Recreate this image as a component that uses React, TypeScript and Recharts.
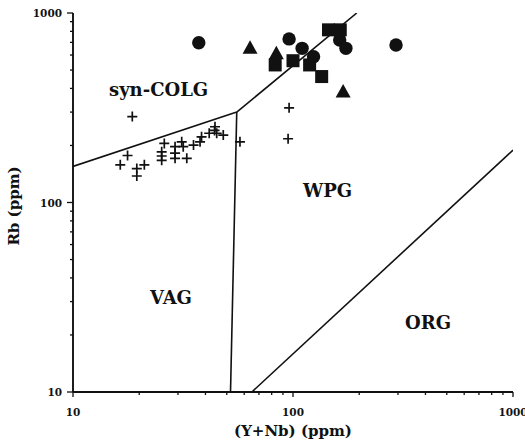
import React from "react";
import {
  ScatterChart,
  Scatter,
  XAxis,
  YAxis,
  ReferenceLine,
  ReferenceDot,
} from "recharts";

const FONT = "'DejaVu Serif', serif";
const INK = "#111";

const majorTicks = [10, 100, 1000];
const minorTicks = [20, 30, 40, 50, 60, 70, 80, 90, 200, 300, 400, 500, 600, 700, 800, 900];
const allTicks = [...majorTicks, ...minorTicks];

// Y+Nb vs Rb, ppm
const crosses = [
  { x: 18.6, y: 284 },
  { x: 17.7, y: 177 },
  { x: 16.4, y: 158 },
  { x: 19.5, y: 151 },
  { x: 19.5, y: 138 },
  { x: 21.1, y: 158 },
  { x: 26.0, y: 205 },
  { x: 25.3, y: 185 },
  { x: 25.3, y: 176 },
  { x: 25.3, y: 167 },
  { x: 29.1, y: 197 },
  { x: 29.1, y: 182 },
  { x: 29.1, y: 171 },
  { x: 31.2, y: 209 },
  { x: 31.7, y: 197 },
  { x: 32.9, y: 171 },
  { x: 35.3, y: 201 },
  { x: 37.8, y: 209 },
  { x: 38.4, y: 222 },
  { x: 41.6, y: 232 },
  { x: 44.2, y: 251 },
  { x: 44.0, y: 240 },
  { x: 45.0, y: 232 },
  { x: 48.2, y: 227 },
  { x: 57.4, y: 209 },
  { x: 96, y: 316 },
  { x: 95, y: 217 },
];

const circles = [
  { x: 37.3, y: 697 },
  { x: 96, y: 730 },
  { x: 110, y: 651 },
  { x: 124, y: 588 },
  { x: 163, y: 720 },
  { x: 174, y: 651 },
  { x: 294, y: 678 },
];

const triangles = [
  { x: 63.8, y: 655 },
  { x: 84, y: 613 },
  { x: 169, y: 385 },
];

const squares = [
  { x: 83, y: 532 },
  { x: 100, y: 560 },
  { x: 119, y: 532 },
  { x: 135, y: 462 },
  { x: 145, y: 815 },
  { x: 164, y: 815 },
];

// field boundaries
const synColgVag = [{ x: 10, y: 155 }, { x: 55.5, y: 300 }];
const vagWpg = [{ x: 55.5, y: 300 }, { x: 52, y: 10 }];
const synColgWpg = [{ x: 55.5, y: 300 }, { x: 195, y: 1000 }];
const wpgOrg = [{ x: 65, y: 10 }, { x: 1000, y: 189 }];
const boundaries = [synColgVag, vagWpg, synColgWpg, wpgOrg];

const fieldLabels = [
  { name: "syn-COLG", x: 24.5, y: 395 },
  { name: "WPG", x: 143.6, y: 115 },
  { name: "VAG", x: 27.9, y: 31.3 },
  { name: "ORG", x: 411, y: 23.3 },
];

const isMajor = (v: number) => majorTicks.includes(v);

const BottomTick = ({ x, y, payload }: any) => (
  <g>
    <line x1={x} x2={x} y1={y} y2={y + (isMajor(payload.value) ? 5 : 3)} stroke={INK} strokeWidth={1.3} />
    {isMajor(payload.value) && (
      <text x={x} y={y + 24} textAnchor="middle" fontFamily={FONT} fontWeight={700} fontSize={10.5} fill={INK}>
        {payload.value}
      </text>
    )}
  </g>
);

const LeftTick = ({ x, y, payload }: any) => (
  <g>
    <line x1={x - (isMajor(payload.value) ? 6 : 3)} x2={x} y1={y} y2={y} stroke={INK} strokeWidth={1.3} />
    {isMajor(payload.value) && (
      <text x={x - 11} y={y + 4} textAnchor="end" fontFamily={FONT} fontWeight={700} fontSize={10.5} fill={INK}>
        {payload.value}
      </text>
    )}
  </g>
);

const TopTick = ({ x, y }: any) => (
  <line x1={x} x2={x} y1={y} y2={y + 3} stroke={INK} strokeWidth={1.2} />
);

const RightTick = ({ x, y }: any) => (
  <line x1={x - 3} x2={x} y1={y} y2={y} stroke={INK} strokeWidth={1.2} />
);

const XTitle = ({ viewBox }: any) => (
  <text
    x={viewBox.x + viewBox.width / 2}
    y={431}
    textAnchor="middle"
    dominantBaseline="central"
    fontFamily={FONT}
    fontWeight={700}
    fontSize={15}
    fill={INK}
  >
    (Y+Nb) (ppm)
  </text>
);

const YTitle = () => (
  <text
    transform="translate(14,206) rotate(-90)"
    textAnchor="middle"
    dominantBaseline="central"
    fontFamily={FONT}
    fontWeight={700}
    fontSize={15}
    fill={INK}
  >
    Rb (ppm)
  </text>
);

const CrossShape = ({ cx, cy }: any) => (
  <path d={`M${cx - 5},${cy}H${cx + 5}M${cx},${cy - 5}V${cy + 5}`} stroke={INK} strokeWidth={1.7} fill="none" />
);
const CircleShape = ({ cx, cy }: any) => <circle cx={cx} cy={cy} r={6.7} fill={INK} />;
const TriangleShape = ({ cx, cy }: any) => (
  <polygon points={`${cx},${cy - 7.5} ${cx - 7.5},${cy + 6} ${cx + 7.5},${cy + 6}`} fill={INK} />
);
const SquareShape = ({ cx, cy }: any) => <rect x={cx - 6.5} y={cy - 6.5} width={13} height={13} fill={INK} />;

const axisLine = { stroke: INK, strokeWidth: 1.6 };

export default function App() {
  return (
    <div style={{ position: "absolute", left: 0, top: 0, background: "#fff" }}>
      <ScatterChart width={525} height={445} margin={{ top: 13, right: 12, bottom: 0, left: 0 }}>
        <XAxis
          dataKey="x"
          type="number"
          scale="log"
          domain={[10, 1000]}
          allowDataOverflow
          ticks={allTicks}
          interval={0}
          tickSize={0}
          tickMargin={0}
          tickLine={false}
          tick={BottomTick}
          axisLine={{ ...axisLine, strokeWidth: 1.9 }}
          height={53}
          label={{ content: XTitle }}
        />
        <XAxis
          xAxisId="top"
          orientation="top"
          type="number"
          scale="log"
          domain={[10, 1000]}
          allowDataOverflow
          ticks={allTicks}
          interval={0}
          tickSize={0}
          tickMargin={0}
          tickLine={false}
          tick={TopTick}
          axisLine={axisLine}
          height={0}
        />
        <YAxis
          dataKey="y"
          type="number"
          scale="log"
          domain={[10, 1000]}
          allowDataOverflow
          ticks={allTicks}
          interval={0}
          tickSize={0}
          tickMargin={0}
          tickLine={false}
          tick={LeftTick}
          axisLine={{ ...axisLine, strokeWidth: 1.9 }}
          width={73}
          label={{ content: YTitle }}
        />
        <YAxis
          yAxisId="right"
          orientation="right"
          type="number"
          scale="log"
          domain={[10, 1000]}
          allowDataOverflow
          ticks={allTicks}
          interval={0}
          tickSize={0}
          tickMargin={0}
          tickLine={false}
          tick={RightTick}
          axisLine={axisLine}
          width={0}
        />

        {boundaries.map((seg, i) => (
          <ReferenceLine
            key={i}
            segment={seg}
            stroke={INK}
            strokeWidth={1.6}
            ifOverflow="hidden"
          />
        ))}

        {fieldLabels.map((f) => (
          <ReferenceDot
            key={f.name}
            x={f.x}
            y={f.y}
            r={0}
            stroke="none"
            fill="none"
            label={{
              value: f.name,
              position: "center",
              fill: INK,
              fontSize: 18,
              fontWeight: 700,
              fontFamily: FONT,
            }}
          />
        ))}

        <Scatter data={crosses} shape={CrossShape} isAnimationActive={false} />
        <Scatter data={circles} shape={CircleShape} isAnimationActive={false} />
        <Scatter data={triangles} shape={TriangleShape} isAnimationActive={false} />
        <Scatter data={squares} shape={SquareShape} isAnimationActive={false} />
      </ScatterChart>
    </div>
  );
}
